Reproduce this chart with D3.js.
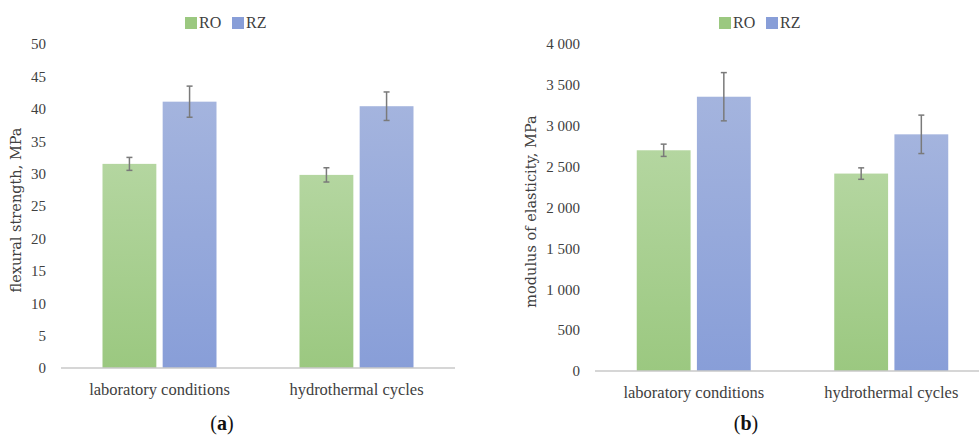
<!DOCTYPE html>
<html>
<head>
<meta charset="utf-8">
<script src="https://cdn.jsdelivr.net/npm/d3@7"></script>
<style>
  body { margin: 0; background: #fff; }
  svg { display: block; font-family: "Liberation Serif", "DejaVu Serif", serif; }
</style>
</head>
<body>
<div id="chart"></div>
<script>
// data
const categories = ['laboratory conditions', 'hydrothermal cycles'];
const seriesNames = ['RO', 'RZ'];

const strengthRO = [31.5, 29.8];
const strengthRZ = [41.1, 40.4];
const strengthErrRO = [1.0, 1.1];
const strengthErrRZ = [2.4, 2.2];
const strengthTicks = [0, 5, 10, 15, 20, 25, 30, 35, 40, 45, 50];

const modulusRO = [2700, 2415];
const modulusRZ = [3355, 2895];
const modulusErrRO = [75, 70];
const modulusErrRZ = [295, 235];
const modulusTicks = [0, 500, 1000, 1500, 2000, 2500, 3000, 3500, 4000];

const colors = { RO: ['#b4d6a0', '#9bc880'], RZ: ['#a4b4de', '#889ed8'] };

const width = 979, height = 436;

const svg = d3.select('#chart').append('svg')
  .attr('width', width)
  .attr('height', height);

const defs = svg.append('defs');
seriesNames.forEach((name) => {
  const grad = defs.append('linearGradient')
    .attr('id', 'grad-' + name)
    .attr('x1', 0).attr('y1', 0).attr('x2', 0).attr('y2', 1);
  grad.append('stop').attr('offset', '0%').attr('stop-color', colors[name][0]);
  grad.append('stop').attr('offset', '100%').attr('stop-color', colors[name][1]);
});

const spaceFormat = d3.formatLocale({ decimal: '.', thousands: ' ', grouping: [3], currency: ['', ''] }).format(',');

function drawPanel({ left, right, top, bottom, yMax, ticks, ro, rz, errRo, errRz, tickFormat,
  yLabel, yLabelX, legendX, panelLetter, letterX }) {
  const g = svg.append('g');

  const x0 = d3.scaleBand().domain(categories).range([left, right]);
  const x1 = d3.scaleBand().domain(seriesNames).range([0, 114]).paddingInner(0.105);
  const y = d3.scaleLinear().domain([0, yMax]).range([bottom, top]);

  // y axis labels only
  const yAxis = g.append('g')
    .attr('transform', `translate(${left},0)`)
    .call(d3.axisLeft(y).tickValues(ticks).tickSize(0).tickPadding(15).tickFormat(tickFormat));
  yAxis.attr('font-family', null);
  yAxis.select('.domain').remove();
  yAxis.selectAll('text')
    .attr('font-family', 'Liberation Serif, serif')
    .attr('font-size', 15)
    .attr('fill', '#404040');

  const values = { RO: ro, RZ: rz };
  const errs = { RO: errRo, RZ: errRz };

  categories.forEach((cat, i) => {
    const cg = g.append('g')
      .attr('transform', `translate(${x0(cat) + x0.bandwidth() / 2 - 57},0)`);

    seriesNames.forEach((name) => {
      const v = values[name][i];
      cg.append('rect')
        .attr('x', x1(name))
        .attr('y', y(v))
        .attr('width', x1.bandwidth())
        .attr('height', y(0) - y(v))
        .attr('fill', `url(#grad-${name})`);

      const cx = x1(name) + x1.bandwidth() / 2;
      const e = errs[name][i];
      cg.append('line')
        .attr('x1', cx).attr('x2', cx)
        .attr('y1', y(v + e)).attr('y2', y(v - e))
        .attr('stroke', '#7a7a7a').attr('stroke-width', 1.5);
      [v + e, v - e].forEach((w) => {
        cg.append('line')
          .attr('x1', cx - 3).attr('x2', cx + 3)
          .attr('y1', y(w)).attr('y2', y(w))
          .attr('stroke', '#7a7a7a').attr('stroke-width', 1.5);
      });
    });
  });

  // baseline
  g.append('line')
    .attr('x1', left).attr('x2', right)
    .attr('y1', y(0)).attr('y2', y(0))
    .attr('stroke', '#c8c8c8').attr('stroke-width', 1.5);

  // category labels
  g.selectAll('.cat')
    .data(categories)
    .join('text')
    .attr('x', d => x0(d) + x0.bandwidth() / 2)
    .attr('y', bottom + 27)
    .attr('text-anchor', 'middle')
    .attr('font-size', 16.5)
    .attr('fill', '#404040')
    .text(d => d);

  // y label
  g.append('text')
    .attr('transform', `translate(${yLabelX},${(top + bottom) / 2 + 4}) rotate(-90)`)
    .attr('text-anchor', 'middle')
    .attr('dy', '0.35em')
    .attr('font-family', 'DejaVu Serif, serif')
    .attr('font-size', 14.5)
    .attr('fill', '#404040')
    .text(yLabel);

  // legend
  const legend = g.append('g').attr('transform', `translate(${legendX},17)`);
  let lx = 0;
  seriesNames.forEach((name) => {
    legend.append('rect')
      .attr('x', lx).attr('y', 0)
      .attr('width', 12).attr('height', 12)
      .attr('fill', colors[name][1]);
    legend.append('text')
      .attr('x', lx + 14).attr('y', 11)
      .attr('font-size', 16)
      .attr('fill', '#404040')
      .text(name);
    lx += 47;
  });

  // panel letter
  const letter = svg.append('text')
    .attr('x', letterX)
    .attr('y', 430)
    .attr('text-anchor', 'middle')
    .attr('font-size', 20)
    .attr('font-family', 'Liberation Serif, serif')
    .attr('fill', '#111');
  letter.append('tspan').text('(');
  letter.append('tspan').attr('font-weight', 'bold').text(panelLetter);
  letter.append('tspan').text(')');
}

drawPanel({
  left: 61, right: 455, top: 44, bottom: 368, yMax: 50, ticks: strengthTicks,
  ro: strengthRO, rz: strengthRZ, errRo: strengthErrRO, errRz: strengthErrRZ,
  tickFormat: d3.format('d'),
  yLabel: 'flexural strength, MPa', yLabelX: 16, legendX: 185,
  panelLetter: 'a', letterX: 222
});

drawPanel({
  left: 595, right: 990, top: 44, bottom: 371, yMax: 4000, ticks: modulusTicks,
  ro: modulusRO, rz: modulusRZ, errRo: modulusErrRO, errRz: modulusErrRZ,
  tickFormat: spaceFormat,
  yLabel: 'modulus of elasticity, MPa', yLabelX: 531, legendX: 719,
  panelLetter: 'b', letterX: 746
});
</script>
</body>
</html>
